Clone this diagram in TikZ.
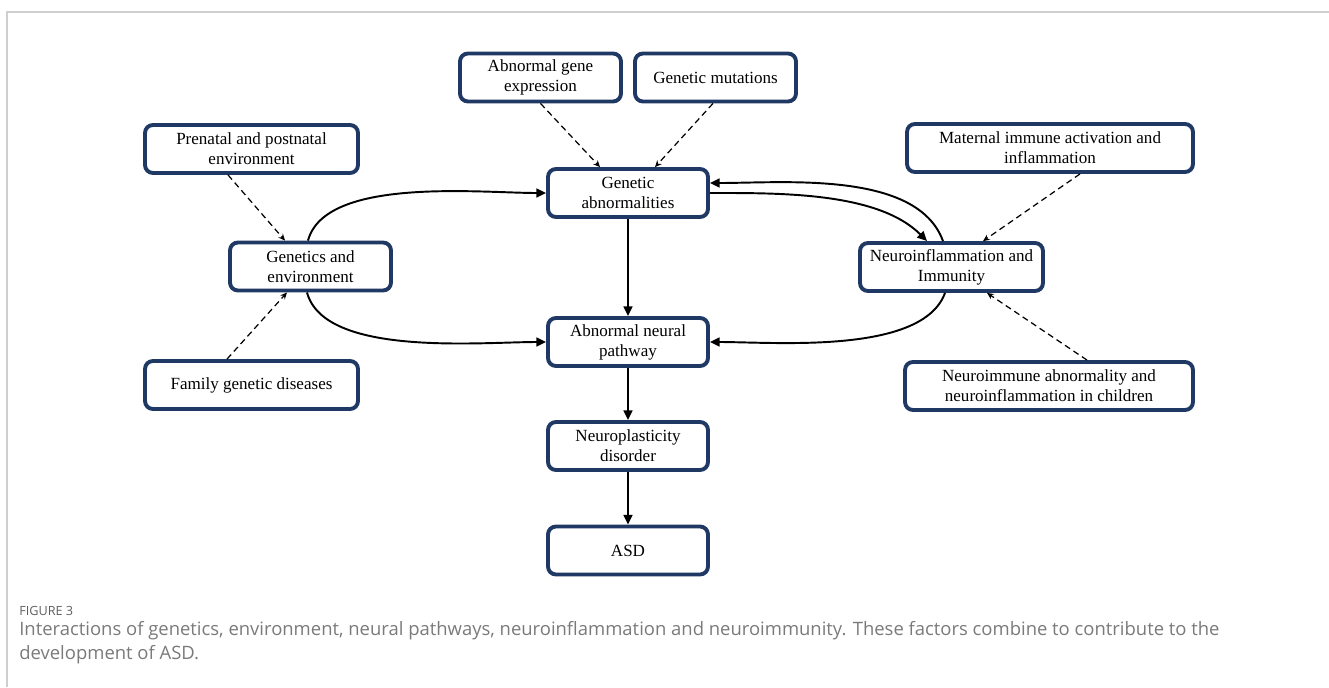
\documentclass[tikz,border=0pt]{standalone}
\usepackage{fontspec}
\setmainfont{Liberation Serif}
\newfontfamily\capfont{Open Sans}
\usepackage{tikz}
\usepackage{xcolor}
\usetikzlibrary{arrows.meta,calc}

\definecolor{boxblue}{HTML}{1F3864}
\definecolor{framegrey}{HTML}{CFCFCF}
\definecolor{capgrey}{HTML}{7A7A7A}

\begin{document}
\begin{tikzpicture}[x=0.02cm,y=0.02cm,
    box/.style={draw=boxblue,line width=2.2pt,rounded corners=4.5pt,fill=white,align=center,
        minimum height=0.96cm,inner sep=1pt,font=\fontsize{9.7}{11.4}\selectfont},
    arr/.style={line width=1.1pt,-{Triangle[length=5.5pt,width=5pt]}},
    dasharr/.style={line width=0.7pt,dash pattern=on 3.5pt off 2.3pt,-{Stealth[length=3.8pt,width=3.4pt]}}]
    \useasboundingbox (0,0) rectangle (1329,-687);
    \draw[framegrey,line width=0.9pt] (7,-687) -- (7,-12) -- (1329,-12);

    % boxes
    \node[box,minimum width=3.22cm] (age) at (540.5,-77.5) {Abnormal gene\\expression};
    \node[box,minimum width=3.22cm] (gmu) at (715.5,-77.5) {Genetic mutations};
    \node[box,minimum width=4.26cm] (pre) at (251.5,-149) {Prenatal and postnatal\\environment};
    \node[box,minimum width=5.72cm] (mat) at (1050,-148) {Maternal immune activation and\\inflammation};
    \node[box,minimum width=3.2cm] (ga) at (628,-193) {Genetic\\abnormalities};
    \node[box,minimum width=3.22cm] (ge) at (310.5,-266.5) {Genetics and\\environment};
    \node[box,minimum width=3.66cm] (ni) at (951.5,-267) {Neuroinflammation and\\Immunity};
    \node[box,minimum width=3.2cm] (anp) at (628,-342) {Abnormal neural\\pathway};
    \node[box,minimum width=4.26cm] (fam) at (251.5,-385) {Family genetic diseases};
    \node[box,minimum width=5.76cm] (nim) at (1049,-386) {Neuroimmune abnormality and\\neuroinflammation in children};
    \node[box,minimum width=3.2cm] (npd) at (628,-446) {Neuroplasticity\\disorder};
    \node[box,minimum width=3.2cm] (asd) at (628,-550.5) {ASD};

    % dashed influences
    \draw[dasharr] ($(pre.south)+(-23.5,0)$) -- ($(ge.north)+(-25.5,0)$);
    \draw[dasharr] ($(fam.north)+(-24.5,0)$) -- ($(ge.south)+(-23.5,0)$);
    \draw[dasharr] (age.south) -- ($(ga.north)+(-28,0)$);
    \draw[dasharr] ($(gmu.south)+(-2.5,0)$) -- ($(ga.north)+(27,0)$);
    \draw[dasharr] ($(mat.south)+(30,0)$) -- ($(ni.north)+(31.5,0)$);
    \draw[dasharr] ($(nim.north)+(38,0)$) -- ($(ni.south)+(35.5,0)$);

    % main flow
    \draw[arr] ($(ge.north)+(-2.5,0)$) to[out=75,in=180,looseness=0.7] (ga.west);
    \draw[arr] ($(ge.south)+(-3.5,0)$) to[out=-75,in=180,looseness=0.7] (anp.west);
    \draw[arr] (ga.east) to[out=0,in=135,looseness=0.8] ($(ni.north)+(-24.5,0)$);
    \draw[arr] ($(ni.north)+(-8.5,0)$) to[out=110,in=0,looseness=0.8] ($(ga.east)+(0,10)$);
    \draw[arr] ($(ni.south)+(-6.5,0)$) to[out=-110,in=0,looseness=0.7] (anp.east);
    \draw[arr] (ga) -- (anp);
    \draw[arr] (anp) -- (npd);
    \draw[arr] (npd) -- (asd);

    % caption
    \node[anchor=base west,inner sep=0pt,text=capgrey!120,font=\capfont\fontsize{7.2}{9}\selectfont] (fig) at (19,-615) {FIGURE 3};
    \node[anchor=base west,inner sep=0pt,text=capgrey,align=left,font=\capfont\fontsize{10.5}{13.1}\selectfont] (cap) at (19,-659)
        {Interactions of genetics, environment, neural pathways, neuroinflammation and neuroimmunity. These factors combine to contribute to the\\development of ASD.};
\end{tikzpicture}
\end{document}
